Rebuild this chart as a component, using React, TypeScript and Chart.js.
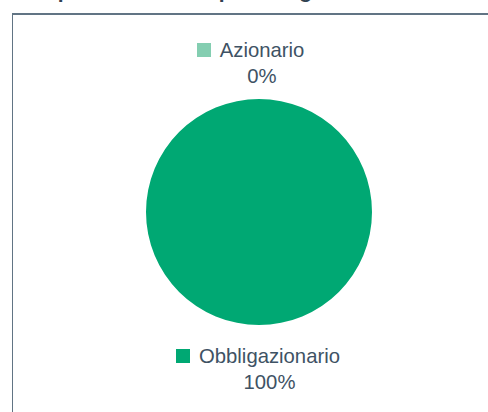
import React, { useEffect, useRef } from "react";
import { Chart, registerables } from "chart.js";

Chart.register(...registerables);

const titleText = "Composizione OICR per categoria";
const categories = ["Azionario", "Obbligazionario"];
const values = [0, 100];
const percentLabels = ["0%", "100%"];
const colors = ["#84ceb1", "#00a873"];

const textColor = "#3e5264";
const fontFamily = "'Liberation Sans', Arial, Helvetica, sans-serif";

// layout for each legend block: [centerX of text, top of block]
const legendLayout = [
  { cx: 262, top: 37 },
  { cx: 269.5, top: 343.3 },
];

export default function App() {
  const canvasRef = useRef<HTMLCanvasElement | null>(null);

  useEffect(() => {
    const canvas = canvasRef.current;
    if (!canvas) return;
    const chart = new Chart(canvas, {
      type: "pie",
      data: {
        labels: categories,
        datasets: [
          {
            data: values,
            backgroundColor: colors,
            borderWidth: 0,
          },
        ],
      },
      options: {
        responsive: false,
        animation: false,
        events: [],
        layout: { padding: 0 },
        plugins: {
          legend: { display: false },
          tooltip: { enabled: false },
          title: { display: false },
        },
      },
    });
    return () => chart.destroy();
  }, []);

  return (
    <div
      style={{
        position: "absolute",
        left: 0,
        top: 0,
        width: 488,
        height: 412,
        overflow: "hidden",
        background: "#ffffff",
        fontFamily,
      }}
    >
      <div
        style={{
          position: "absolute",
          left: 11,
          top: -21,
          fontSize: 21,
          lineHeight: "24px",
          fontWeight: "bold",
          color: "#2f4050",
          whiteSpace: "nowrap",
        }}
      >
        {titleText}
      </div>
      <div
        style={{
          position: "absolute",
          left: 12,
          top: 13,
          width: 600,
          height: 500,
          borderTop: "2px solid #617484",
          borderLeft: "1px solid #617484",
        }}
      />
      <canvas
        ref={canvasRef}
        width={226}
        height={226}
        style={{ position: "absolute", left: 146, top: 99, width: 226, height: 226 }}
      />
      {categories.map((cat, i) => (
        <div
          key={cat}
          style={{
            position: "absolute",
            left: legendLayout[i].cx - 150,
            top: legendLayout[i].top,
            width: 300,
            textAlign: "center",
            fontSize: 20.3,
            lineHeight: "26px",
            color: textColor,
            whiteSpace: "nowrap",
          }}
        >
          <div>
            <span
              style={{
                display: "inline-block",
                width: 14,
                height: 14,
                marginLeft: -23,
                marginRight: 9,
                background: colors[i],
                verticalAlign: "baseline",
              }}
            />
            {cat}
          </div>
          <div>{percentLabels[i]}</div>
        </div>
      ))}
    </div>
  );
}
